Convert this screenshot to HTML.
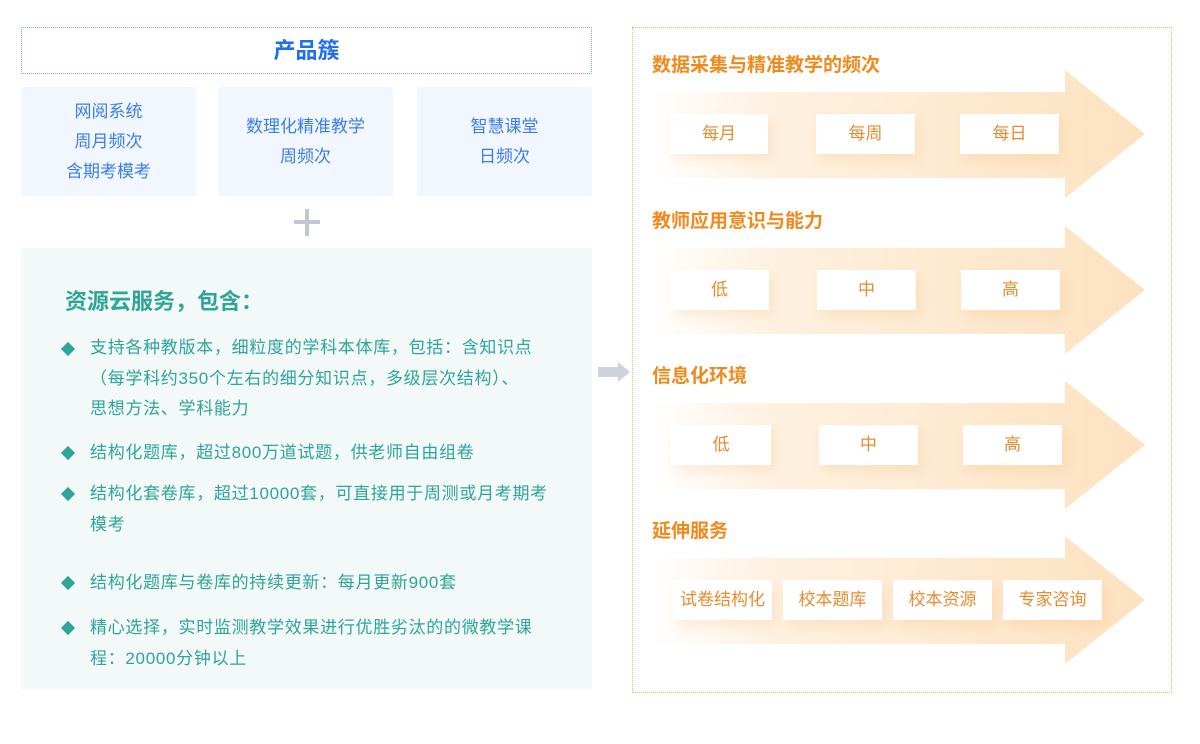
<!DOCTYPE html>
<html><head><meta charset="utf-8"><style>
body{margin:0;width:1200px;height:744px;background:#fff;position:relative;overflow:hidden;font-family:"Liberation Sans","Noto Sans CJK SC",sans-serif}
.a{position:absolute}
.pb{position:absolute;background:#f1f6ff;color:#3b7ded;font-size:17px;line-height:30px;text-align:center;display:flex;flex-direction:column;justify-content:center;border-radius:3px}
.li{position:absolute;left:90px;width:500px;color:#2ea597;font-size:17px;letter-spacing:0.7px;line-height:30.5px;white-space:nowrap}
.dm{position:absolute;left:63px;width:10px;height:10px;background:#2ea597;transform:rotate(45deg)}
.t{position:absolute;left:652px;color:#f08a1c;font-size:19px;font-weight:bold}
.bx{position:absolute;background:#fff;color:#e68b2e;font-size:17px;text-align:center;line-height:40px;height:40px;box-shadow:4px 6px 10px rgba(240,170,90,.18)}
</style></head><body>
<div class="a" style="left:21px;top:27px;width:569px;height:45px;border:1px dotted #7aa6f2;color:#1f6ef0;font-size:22px;font-weight:bold;text-align:center;line-height:45px">产品簇</div>
<div class="pb" style="left:21px;top:87px;width:175px;height:109px">网阅系统<br>周月频次<br>含期考模考</div>
<div class="pb" style="left:218px;top:87px;width:175px;height:109px">数理化精准教学<br>周频次</div>
<div class="pb" style="left:417px;top:87px;width:175px;height:109px">智慧课堂<br>日频次</div>
<div class="a" style="left:294px;top:220px;width:26px;height:4px;background:#c3c7d4"></div>
<div class="a" style="left:305px;top:209px;width:4px;height:27px;background:#c3c7d4"></div>
<div class="a" style="left:21px;top:248px;width:571px;height:442px;background:#f3f9f9"></div>
<div class="a" style="left:65px;top:284px;color:#2ea597;font-size:22px;font-weight:bold">资源云服务，包含：</div>
<div class="dm" style="top:344px"></div><div class="li" style="top:333px">支持各种教版本，细粒度的学科本体库，包括：含知识点<br>（每学科约350个左右的细分知识点，多级层次结构）、<br>思想方法、学科能力</div>
<div class="dm" style="top:448px"></div><div class="li" style="top:438px">结构化题库，超过800万道试题，供老师自由组卷</div>
<div class="dm" style="top:489px"></div><div class="li" style="top:479px">结构化套卷库，超过10000套，可直接用于周测或月考期考<br>模考</div>
<div class="dm" style="top:578px"></div><div class="li" style="top:568px">结构化题库与卷库的持续更新：每月更新900套</div>
<div class="dm" style="top:623px"></div><div class="li" style="top:613px">精心选择，实时监测教学效果进行优胜劣汰的的微教学课<br>程：20000分钟以上</div>
<svg class="a" style="left:598px;top:362px" width="34" height="20"><polygon points="0,5 20,5 20,0 32,10 20,20 20,15 0,15" fill="#cfd3de"/></svg>
<div class="a" style="left:632px;top:27px;width:538px;height:664px;border:1px dotted #f3b56b"></div>
<svg class="a" style="left:0;top:0" width="1200" height="744">
<defs><linearGradient id="g" x1="650" x2="1145" gradientUnits="userSpaceOnUse"><stop offset="0" stop-color="#fde5c6" stop-opacity="0"/><stop offset="0.25" stop-color="#fde5c6" stop-opacity="0.55"/><stop offset="1" stop-color="#fde2c0"/></linearGradient></defs>
<polygon points="650,92 1065,92 1065,70 1145,134 1065,198 1065,178 650,178" fill="url(#g)"/>
<polygon points="650,248 1065,248 1065,226 1145,290 1065,354 1065,334 650,334" fill="url(#g)"/>
<polygon points="650,403 1065,403 1065,381 1145,445 1065,509 1065,489 650,489" fill="url(#g)"/>
<polygon points="650,558 1065,558 1065,536 1145,600 1065,664 1065,644 650,644" fill="url(#g)"/>
</svg>
<div class="t" style="top:50px">数据采集与精准教学的频次</div>
<div class="t" style="top:206px">教师应用意识与能力</div>
<div class="t" style="top:361px">信息化环境</div>
<div class="t" style="top:516px">延伸服务</div>
<div class="bx" style="left:670px;top:114px;width:98px">每月</div>
<div class="bx" style="left:816px;top:114px;width:99px">每周</div>
<div class="bx" style="left:960px;top:114px;width:99px">每日</div>
<div class="bx" style="left:670px;top:270px;width:99px">低</div>
<div class="bx" style="left:817px;top:270px;width:99px">中</div>
<div class="bx" style="left:961px;top:270px;width:99px">高</div>
<div class="bx" style="left:671px;top:425px;width:100px">低</div>
<div class="bx" style="left:819px;top:425px;width:99px">中</div>
<div class="bx" style="left:963px;top:425px;width:99px">高</div>
<div class="bx" style="left:673px;top:580px;width:99px">试卷结构化</div>
<div class="bx" style="left:783px;top:580px;width:99px">校本题库</div>
<div class="bx" style="left:893px;top:580px;width:99px">校本资源</div>
<div class="bx" style="left:1003px;top:580px;width:99px">专家咨询</div>
</body></html>
